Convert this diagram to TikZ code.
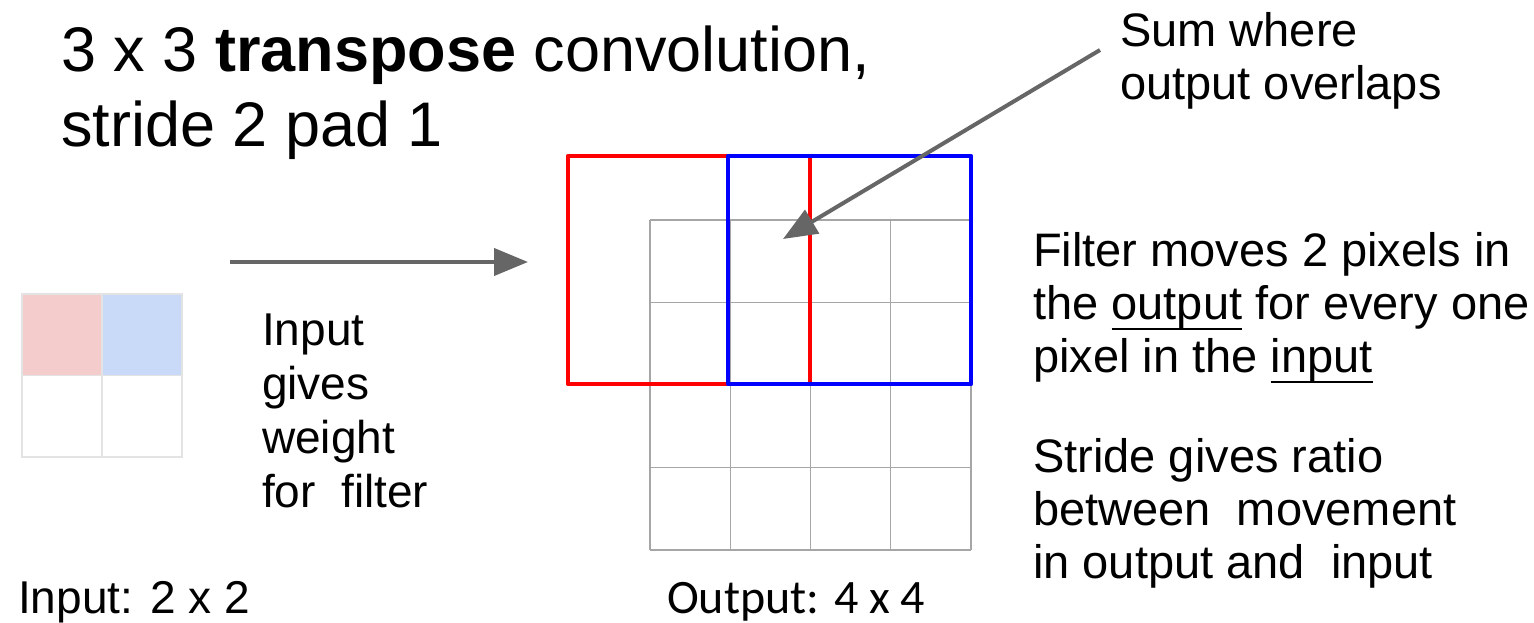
\documentclass[tikz,border=0pt]{standalone}
\usepackage{fontspec}
\setmainfont{Liberation Sans}
\newfontfamily\capfont{Carlito}
\usetikzlibrary{positioning, arrows.meta}
\definecolor{arrowgrey}{HTML}{666666}
\definecolor{cellred}{HTML}{F4CCCC}
\definecolor{cellblue}{HTML}{C9DAF8}
\definecolor{cellline}{HTML}{E3E3E3}
\definecolor{gridgrey}{HTML}{A6A6A6}
\newcommand{\undl}[1]{\sbox0{#1}\rlap{\rule[-11pt]{\wd0}{2.5pt}}\usebox0}

\begin{document}
\begin{tikzpicture}[
  x=1pt, y=-1pt,
  incell/.style={
    draw=cellline,
    line width=1.5pt,
    rectangle,
    minimum width=80pt,
    minimum height=81.5pt,
    inner sep=0pt,
    outer sep=0pt
  },
  bodytext/.style={
    anchor=north west,
    inner sep=0pt,
    align=left,
    font=\fontsize{47}{53}\selectfont
  },
  pointer/.style={-{Triangle[length=34pt, width=27pt]}, arrowgrey, line width=4pt},
  filterbox/.style={line width=4.8pt, line join=round}
]
  \useasboundingbox (0,0) rectangle (1534,623);

  % --- Input 2 x 2 ---
  \node[incell, fill=cellred, anchor=north west] (in11) at (22,294) {};
  \node[incell, fill=cellblue, right=0pt of in11] (in12) {};
  \node[incell, below=0pt of in11] (in21) {};
  \node[incell, below=0pt of in12] (in22) {};

  % --- Output 4 x 4 grid ---
  \foreach \i in {0,...,4} {
    \draw[gridgrey, line width=1.2pt] ({650+\i*80.25},220) -- ({650+\i*80.25},550);
    \draw[gridgrey, line width=1.2pt] (650,{220+\i*82.5}) -- (971,{220+\i*82.5});
  }

  % --- Filter footprints ---
  \draw[filterbox, red]  (568,156) rectangle (810,384);
  \draw[filterbox, blue] (728,156) rectangle (971,384);

  % --- Arrows ---
  \coordinate (gofrom) at (230,262);
  \coordinate (goto)   at (528,262);
  \draw[pointer] (gofrom) -- (goto);
  \coordinate (sumfrom) at (1100,50);
  \coordinate (sumto)   at (783,239);
  \draw[pointer] (sumfrom) -- (sumto);

  % --- Texts ---
  \node[bodytext, font=\fontsize{63}{75}\selectfont] (title) at (61,26)
       {3 x 3 \textbf{transpose} convolution,\\stride 2 pad 1};
  \node[bodytext] (sumlbl) at (1120,12) {Sum where\\output overlaps};
  \node[bodytext] (movelbl) at (1033,232)
       {Filter moves 2 pixels in\\the \undl{output} for every one\\pixel in the \undl{input}};
  \node[bodytext] (ratiolbl) at (1033,438)
       {Stride gives ratio\\between~~movement\\in output and~~input};
  \node[bodytext, font=\fontsize{46}{54}\selectfont] (weightlbl) at (262,314)
       {Input\\gives\\weight\\for~~filter};
  \node[bodytext, font=\fontsize{46}{54}\selectfont] (incap) at (18,581) {Input: 2 x 2};
  \node[bodytext, font=\capfont\fontsize{48}{54}\selectfont] (outcap) at (667,582) {Output: 4 x 4};

\end{tikzpicture}
\end{document}
